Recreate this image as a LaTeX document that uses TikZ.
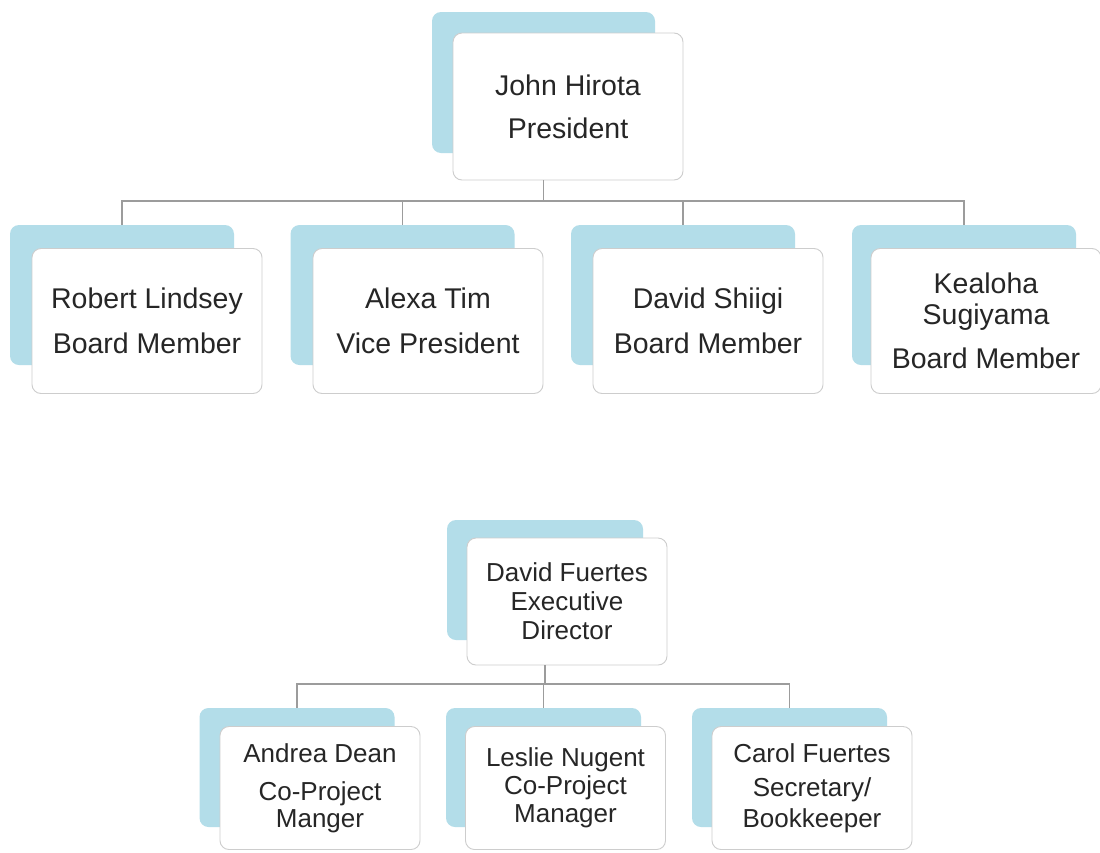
\documentclass[tikz,border=0pt]{standalone}
\usepackage{fontspec}
\setmainfont{Liberation Sans}
\definecolor{shadowblue}{HTML}{B3DDE9}
\definecolor{boxline}{HTML}{CDCDCD}
\definecolor{connline}{HTML}{9C9C9C}
\definecolor{txt}{HTML}{262626}
\tikzset{
  bluecard/.style={fill=shadowblue, draw=none, rounded corners=9pt, inner sep=0pt},
  whitecard/.style={fill=white, draw=boxline, line width=0.9pt, rounded corners=9pt, inner sep=0pt, align=center, text=txt},
  bigblue/.style={bluecard, minimum width=224pt, minimum height=140pt},
  bigwhite/.style={whitecard, minimum width=230pt, minimum height=145pt, font=\fontsize{28.5}{45}\selectfont},
  smallblue/.style={bluecard, minimum width=195pt, minimum height=119pt},
  smallwhite/.style={whitecard, minimum width=200pt, minimum height=123pt, font=\fontsize{26}{29}\selectfont},
  conn/.style={draw=connline, line width=1.4pt}
}
\begin{document}
\begin{tikzpicture}[x=1pt, y=-1pt]
\useasboundingbox (0,0) rectangle (1100,852);
\fill[white] (0,0) rectangle (1100,852);

% ---- top chart ----
\node[bigblue, minimum width=223pt, minimum height=141pt] (pb) at (543.5,82.5) {};
\node[bigwhite, minimum height=147pt, font=\fontsize{28.5}{43}\selectfont] (pw) at (568,106.5) {John Hirota\\President};

\node[bigblue] (b1) at (122,295) {};
\node[bigwhite] (w1) at (147,321) {Robert Lindsey\\Board Member};
\node[bigblue] (b2) at (402.5,295) {};
\node[bigwhite] (w2) at (428,321) {Alexa Tim\\Vice President};
\node[bigblue] (b3) at (683,295) {};
\node[bigwhite] (w3) at (708,321) {David Shiigi\\Board Member};
\node[bigblue] (b4) at (964,295) {};
\node[bigwhite, font=\fontsize{28.5}{31}\selectfont] (w4) at (986,321) {Kealoha\\Sugiyama\\[13pt]Board Member};

\coordinate (bus1) at (0,201);
\draw[conn] (pb.south |- pw.south) -- (pb.south |- bus1);
\draw[conn] (b1.north) |- (b4.north |- bus1) -- (b4.north);
\draw[conn] (b2.north |- bus1) -- (b2.north);
\draw[conn] (b3.north |- bus1) -- (b3.north);

% ---- bottom chart ----
\node[smallblue, minimum width=196pt, minimum height=120pt] (qb) at (545,580) {};
\node[smallwhite, minimum height=127pt] (qw) at (567,601.5) {David Fuertes\\Executive\\Director};

\node[smallblue] (c1) at (297,767.5) {};
\node[smallwhite, font=\fontsize{26}{27}\selectfont] (v1) at (320,788) {Andrea Dean\\[11pt]Co-Project\\Manger};
\node[smallblue] (c2) at (543.5,767.5) {};
\node[smallwhite, font=\fontsize{26}{28}\selectfont] (v2) at (565.5,788) {Leslie Nugent\\Co-Project\\Manager};
\node[smallblue] (c3) at (789.5,767.5) {};
\node[smallwhite, font=\fontsize{26}{31}\selectfont] (v3) at (812,788) {Carol Fuertes\\[3pt]Secretary/\\Bookkeeper};

\coordinate (bus2) at (0,684);
\draw[conn] (qb.south |- qw.south) -- (qb.south |- bus2);
\draw[conn] (c1.north) |- (c3.north |- bus2) -- (c3.north);
\draw[conn] (c2.north |- bus2) -- (c2.north);
\end{tikzpicture}
\end{document}
